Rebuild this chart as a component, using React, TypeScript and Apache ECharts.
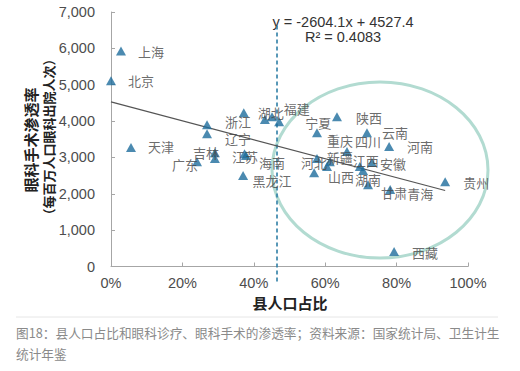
import React, { useEffect, useRef } from 'react';
import * as echarts from 'echarts';

// ---- data ----
const provinces = ['北京', '上海', '天津', '广东', '吉林', '内蒙古', '浙江', '辽宁', '湖北', '福建', '山东', '宁夏', '江苏', '海南', '黑龙江', '重庆', '陕西', '云南', '河南', '四川', '河北', '新疆', '山西', '江西', '广西', '湖南', '安徽', '甘肃', '青海', '贵州', '西藏'];
const countyShare = [0.0, 0.028, 0.056, 0.241, 0.291, 0.291, 0.269, 0.269, 0.372, 0.431, 0.451, 0.471, 0.374, 0.378, 0.37, 0.577, 0.633, 0.717, 0.779, 0.661, 0.577, 0.613, 0.605, 0.697, 0.569, 0.706, 0.731, 0.72, 0.782, 0.936, 0.793];
const penetration = [5110, 5930, 3270, 2880, 3130, 2970, 3900, 3650, 4230, 4040, 4120, 3980, 3100, 3050, 2500, 3680, 4120, 3680, 3300, 3160, 2970, 2880, 2750, 2750, 2580, 2640, 2860, 2250, 2120, 2330, 410];
const hiddenLabels = ['内蒙古', '山东', '广西'];
const xTicks = [0, 0.2, 0.4, 0.6, 0.8, 1.0];
const yTicks = [0, 1000, 2000, 3000, 4000, 5000, 6000, 7000];
const trendSlope = -2604.1;
const trendIntercept = 4527.4;
const rSquared = 0.4083;
const averageShare = 0.465;
const refLineRange = [6630, -430];

const yTitle1 = '眼科手术渗透率';
const yTitle2 = '（每百万人口眼科出院人次）';
const xTitle = '县人口占比';
const caption1 = '图18：县人口占比和眼科诊疗、眼科手术的渗透率；资料来源：国家统计局、卫生计生';
const caption2 = '统计年鉴';

// label placement (offset of label centre from the marker centre, px)
const labelOffset: Record<string, [number, number]> = {
  北京: [30, 0], 上海: [30, 1], 天津: [30, -1], 广东: [-12, 3.2], 吉林: [-9, -0.7],
  浙江: [31, -3.2], 辽宁: [31, 5.2], 湖北: [27, 0], 福建: [32, -11.6], 宁夏: [39, 1.2],
  江苏: [0.5, 3], 海南: [26, 6.4], 黑龙江: [29, 4.4], 重庆: [23, 7.3], 陕西: [32, 1],
  云南: [28, 0], 河南: [31, 0], 四川: [21, -10.6], 河北: [-3, 3.5], 新疆: [10, -4],
  山西: [14, 9.5], 江西: [6, -6], 湖南: [5, 8.5], 安徽: [21, 0.5], 甘肃: [26, 8.3],
  青海: [30, 3.6], 贵州: [31, 1], 西藏: [31, 1],
};

const NUM_FONT = '"Liberation Sans", Arial, sans-serif';
const CJK_FONT = '"Noto Sans CJK SC", sans-serif';

export default function App() {
  const ref = useRef<HTMLDivElement>(null);

  useEffect(() => {
    if (!ref.current) return;
    const chart = echarts.init(ref.current, undefined, { renderer: 'svg' });

    const scatterData = provinces.map((name, i) => ({
      name,
      value: [countyShare[i], penetration[i]],
      label: hiddenLabels.includes(name)
        ? { show: false }
        : { show: true, offset: labelOffset[name] || [30, 0] },
    }));

    const maxX = Math.max(...countyShare);
    const trendData = [
      [0, trendIntercept],
      [maxX, trendIntercept + trendSlope * maxX],
    ];

    const eqText = `y = ${trendSlope}x + ${trendIntercept}`;
    const r2Text = `R² = ${rSquared}`;

    chart.setOption({
      animation: false,
      grid: { left: 111, right: 52, top: 12, bottom: 104.5, containLabel: false },
      xAxis: {
        type: 'value',
        min: xTicks[0],
        max: xTicks[xTicks.length - 1],
        interval: 0.2,
        axisLine: { show: true, lineStyle: { color: '#a6a6a6', width: 1 } },
        axisTick: { show: true, inside: true, length: 4, lineStyle: { color: '#a6a6a6' } },
        splitLine: { show: false },
        axisLabel: {
          margin: 9,
          color: '#4d4d4d',
          fontSize: 14.5,
          fontFamily: NUM_FONT,
          formatter: (v: number) => `${Math.round(v * 100)}%`,
        },
      },
      yAxis: {
        type: 'value',
        min: yTicks[0],
        max: yTicks[yTicks.length - 1],
        interval: 1000,
        axisLine: { show: true, lineStyle: { color: '#a6a6a6', width: 1 } },
        axisTick: { show: true, inside: true, length: 4, lineStyle: { color: '#a6a6a6' } },
        splitLine: { show: false },
        axisLabel: {
          margin: 16,
          color: '#4d4d4d',
          fontSize: 14.5,
          fontFamily: NUM_FONT,
          formatter: (v: number) => v.toLocaleString('en-US'),
        },
      },
      series: [
        {
          type: 'custom',
          name: 'avg',
          clip: false,
          silent: true,
          z: 1,
          data: [[averageShare, refLineRange[0], refLineRange[1]]],
          renderItem: (params: any, api: any) => {
            const p1 = api.coord([api.value(0), api.value(1)]);
            const p2 = api.coord([api.value(0), api.value(2)]);
            return {
              type: 'line',
              shape: { x1: p1[0], y1: p1[1], x2: p2[0], y2: p2[1] },
              style: { stroke: '#2f7fa6', lineWidth: 1.6, lineDash: [4, 3], fill: null },
            };
          },
        },
        {
          type: 'line',
          name: 'trend',
          data: trendData,
          symbol: 'none',
          silent: true,
          z: 3,
          lineStyle: { color: '#555555', width: 1.2 },
        },
        {
          type: 'scatter',
          name: 'provinces',
          data: scatterData,
          symbol: 'triangle',
          symbolSize: [10, 9],
          z: 4,
          itemStyle: { color: '#1e6d9c' },
          label: {
            show: true,
            position: 'inside',
            align: 'center',
            verticalAlign: 'middle',
            formatter: '{b}',
            fontFamily: CJK_FONT,
            fontSize: 13,
            lineHeight: 13,
            color: '#454545',
          },
        },
      ],
      graphic: [
        {
          type: 'ellipse',
          z: 0,
          silent: true,
          shape: { cx: 380, cy: 170, rx: 108, ry: 88 },
          style: { fill: 'none', stroke: '#b2dbd1', lineWidth: 3 },
        },
        {
          type: 'text',
          x: 343,
          y: 22,
          style: {
            text: eqText,
            fontFamily: NUM_FONT,
            fontSize: 14.5,
            fill: '#333333',
            textAlign: 'center',
            textVerticalAlign: 'middle',
          },
        },
        {
          type: 'text',
          x: 343,
          y: 37,
          style: {
            text: r2Text,
            fontFamily: NUM_FONT,
            fontSize: 14.5,
            fill: '#333333',
            textAlign: 'center',
            textVerticalAlign: 'middle',
          },
        },
        {
          type: 'text',
          x: 30,
          y: 140,
          rotation: Math.PI / 2,
          style: {
            text: yTitle1,
            fontFamily: CJK_FONT,
            fontWeight: 'bold',
            fontSize: 15,
            fill: '#222222',
            textAlign: 'center',
            textVerticalAlign: 'middle',
          },
        },
        {
          type: 'text',
          x: 48,
          y: 137,
          rotation: Math.PI / 2,
          style: {
            text: yTitle2,
            fontFamily: CJK_FONT,
            fontWeight: 'bold',
            fontSize: 13,
            fill: '#222222',
            textAlign: 'center',
            textVerticalAlign: 'middle',
          },
        },
        {
          type: 'text',
          x: 290,
          y: 302,
          style: {
            text: xTitle,
            fontFamily: CJK_FONT,
            fontWeight: 'bold',
            fontSize: 15,
            fill: '#222222',
            textAlign: 'center',
            textVerticalAlign: 'middle',
          },
        },
        {
          type: 'line',
          shape: { x1: 16, y1: 317, x2: 498, y2: 317 },
          style: { stroke: '#e6e6e6', lineWidth: 1 },
        },
        {
          type: 'text',
          x: 16,
          y: 332,
          style: {
            text: caption1,
            fontFamily: CJK_FONT,
            fontSize: 12.7,
            fill: '#8a8a8a',
            textAlign: 'left',
            textVerticalAlign: 'middle',
          },
        },
        {
          type: 'text',
          x: 16,
          y: 353,
          style: {
            text: caption2,
            fontFamily: CJK_FONT,
            fontSize: 12.7,
            fill: '#8a8a8a',
            textAlign: 'left',
            textVerticalAlign: 'middle',
          },
        },
      ],
    });

    return () => chart.dispose();
  }, []);

  return (
    <div
      ref={ref}
      style={{ position: 'fixed', left: 0, top: 0, width: 520, height: 371, background: '#ffffff' }}
    />
  );
}
